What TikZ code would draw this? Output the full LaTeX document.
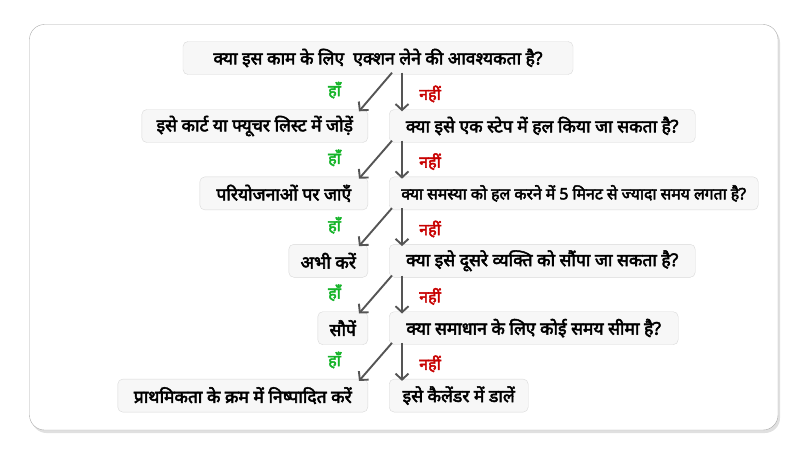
\documentclass[tikz,border=0pt]{standalone}
\usepackage{fontspec}
\setmainfont{Noto Sans}[Script=Devanagari]
\newfontfamily\devabold{Noto Sans}[Script=Devanagari, FakeBold=3]
\usepackage{xcolor}
\definecolor{BoxFill}{RGB}{247,247,247}
\definecolor{BoxLine}{RGB}{218,218,218}
\definecolor{FrameLine}{RGB}{170,170,170}
\definecolor{ArrowColor}{RGB}{85,85,85}
\definecolor{YesColor}{RGB}{20,180,40}
\definecolor{NoColor}{RGB}{200,0,0}
\usetikzlibrary{positioning, arrows.meta, shadows}

\begin{document}
\begin{tikzpicture}[
    x=1pt, y=-1pt,
    node distance=34pt and 21pt,
    every node/.style={font=\devabold\fontsize{17.5}{19}\selectfont},
    block/.style={rectangle, draw=BoxLine, fill=BoxFill, rounded corners=5pt, minimum height=33pt, inner xsep=4pt, align=center},
    question/.style={block, anchor=west},
    answer/.style={block},
    arrow/.style={-{Straight Barb[length=6pt, width=13pt]}, line width=1.9pt, ArrowColor},
    yes/.style={font=\devabold\fontsize{16}{18}\selectfont, text=YesColor},
    no/.style={font=\devabold\fontsize{16}{18}\selectfont, text=NoColor},
]
\useasboundingbox (0,0) rectangle (808,455);

% Frame
\draw[FrameLine, fill=white, rounded corners=15pt,
    drop shadow={shadow xshift=2pt, shadow yshift=-3pt, opacity=0.12, fill=black}]
    (29.5,24.5) rectangle (778,430);

% Top question
\node[block, minimum width=390pt] (q0) at (378,58) {क्या इस काम के लिए\ \ एक्शन लेने की आवश्यकता है?};

% Questions
\node[question, minimum width=306pt] (q1) at (389,126) {क्या इसे एक स्टेप में हल किया जा सकता है?};
\node[question, minimum width=369pt, below=34pt of q1.south west, anchor=north west, font=\devabold\fontsize{15.8}{18}\selectfont] (q2) {क्या समस्या को हल करने में 5 मिनट से ज्यादा समय लगता है?};
\node[question, minimum width=306pt, below=34pt of q2.south west, anchor=north west] (q3) {क्या इसे दूसरे व्यक्ति को सौंपा जा सकता है?};
\node[question, minimum width=289pt, below=34pt of q3.south west, anchor=north west] (q4) {क्या समाधान के लिए कोई समय सीमा है?};
\node[question, minimum width=139pt, below=34pt of q4.south west, anchor=north west] (q5) {इसे कैलेंडर में डालें};

% Answers
\node[answer, minimum width=226pt, left=21pt of q1] (a1) {इसे कार्ट या फ्यूचर लिस्ट में जोड़ें};
\node[answer, minimum width=168pt, left=21pt of q2] (a2) {परियोजनाओं पर जाएँ};
\node[answer, minimum width=79pt, left=21pt of q3] (a3) {अभी करें};
\node[answer, minimum width=50pt, left=21pt of q4] (a4) {सौपें};
\node[answer, minimum width=250pt, left=21pt of q5] (a5) {प्राथमिकता के क्रम में निष्पादित करें};

% Arrows
\foreach \p/\n in {0/1, 1/2, 2/3, 3/4, 4/5} {
    \draw[arrow] ([xshift=3pt, yshift=2pt]q\p.south -| q\n.west) -- ([xshift=-9pt, yshift=-2pt]a\n.north east)
        node[yes, pos=0.45, left=32pt] {हाँ};
    \draw[arrow] ([xshift=13pt, yshift=2pt]q\p.south -| q\n.west) -- ([xshift=13pt, yshift=-2pt]q\n.north west)
        node[no, pos=0.55, right=13pt] {नहीं};
}

\end{tikzpicture}
\end{document}
